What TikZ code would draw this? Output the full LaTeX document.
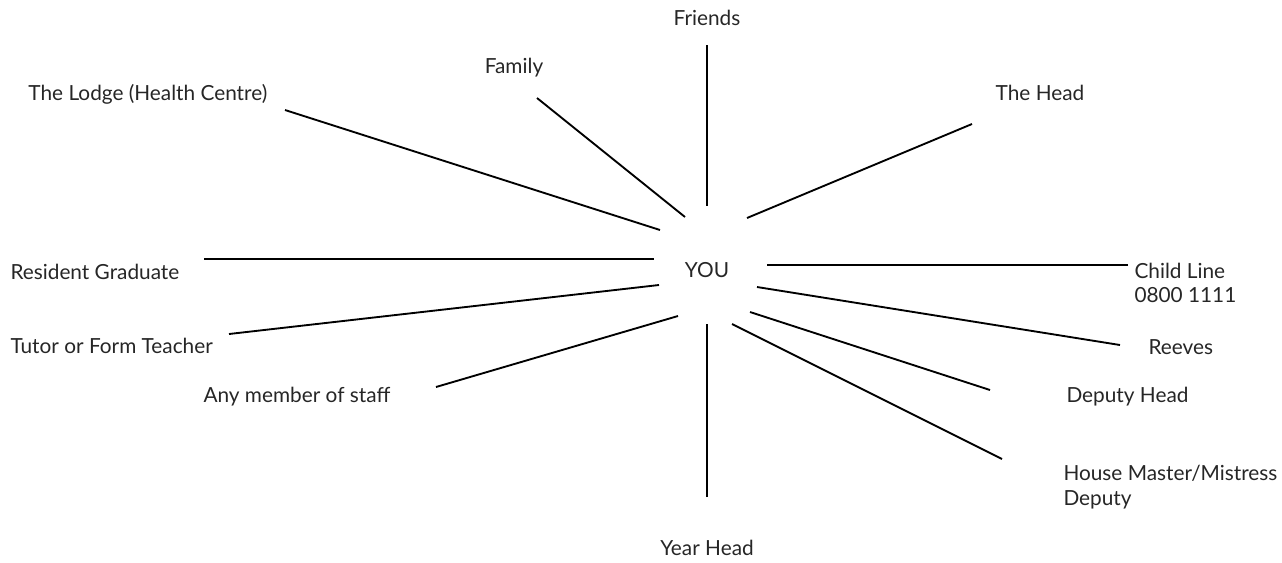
\documentclass[tikz,border=0pt]{standalone}
\usepackage{fontspec}
\setmainfont{Lato}
\tikzset{every picture/.style={line width=0.75pt}}
\tikzset{
  lbl/.style={inner sep=0pt, font=\fontsize{15.6}{18.5}\selectfont, text=black!85},
  spoke/.style={line width=1.4pt}
}

\begin{document}
\begin{tikzpicture}[x=0.75pt,y=0.75pt,yscale=-1,xscale=1]
	\useasboundingbox (0,0) rectangle (1282,562);

	% Text Node
	\node [lbl] (you) at (707,270) {YOU};
	% Text Node
	\node [lbl] (friends) at (707,18) {Friends};
	% Text Node
	\node [lbl] (family) at (514,68) {Family};
	% Text Node
	\node [lbl, anchor=west] (lodge) at (28,94) {The Lodge (Health Centre)};
	% Text Node
	\node [lbl] (head) at (1040,93) {The Head};
	% Text Node
	\node [lbl, anchor=west] (resident) at (10,272) {Resident Graduate};
	% Text Node
	\node [lbl, anchor=west, align=left] (childline) at (1134,283) {Child Line\\0800 1111};
	% Text Node
	\node [lbl, anchor=west] (tutor) at (10,346) {Tutor or Form Teacher};
	% Text Node
	\node [lbl, anchor=west] (reeves) at (1148,347) {Reeves};
	% Text Node
	\node [lbl, anchor=west] (staff) at (203,397) {Any member of staff};
	% Text Node
	\node [lbl, anchor=west] (deputy) at (1066,397) {Deputy Head};
	% Text Node
	\node [lbl, anchor=west, align=left] (house) at (1063,487) {House Master/Mistress\\Deputy};
	% Text Node
	\node [lbl] (yearhead) at (707,548) {Year Head};

	% spoke ends
	\coordinate (friends-a) at (707,45);   \coordinate (friends-b) at (707,206);
	\coordinate (family-a) at (537,98);    \coordinate (family-b) at (685,217);
	\coordinate (lodge-a) at (285,110);    \coordinate (lodge-b) at (660,230);
	\coordinate (head-a) at (972,124);     \coordinate (head-b) at (747,218);
	\coordinate (resident-a) at (204,259); \coordinate (resident-b) at (654,259);
	\coordinate (childline-a) at (1128,265); \coordinate (childline-b) at (767,265);
	\coordinate (tutor-a) at (229,334);    \coordinate (tutor-b) at (659,285);
	\coordinate (reeves-a) at (1120,345);  \coordinate (reeves-b) at (757,287);
	\coordinate (staff-a) at (436,387);    \coordinate (staff-b) at (678,316);
	\coordinate (deputy-a) at (990,390);   \coordinate (deputy-b) at (750,312);
	\coordinate (house-a) at (1002,459);   \coordinate (house-b) at (732,324);
	\coordinate (yearhead-a) at (707,497); \coordinate (yearhead-b) at (707,324);

	%Straight Lines
	\foreach \s in {friends,family,lodge,head,resident,childline,tutor,reeves,staff,deputy,house,yearhead}
		\draw [spoke] (\s-a) -- (\s-b) ;

\end{tikzpicture}
\end{document}
